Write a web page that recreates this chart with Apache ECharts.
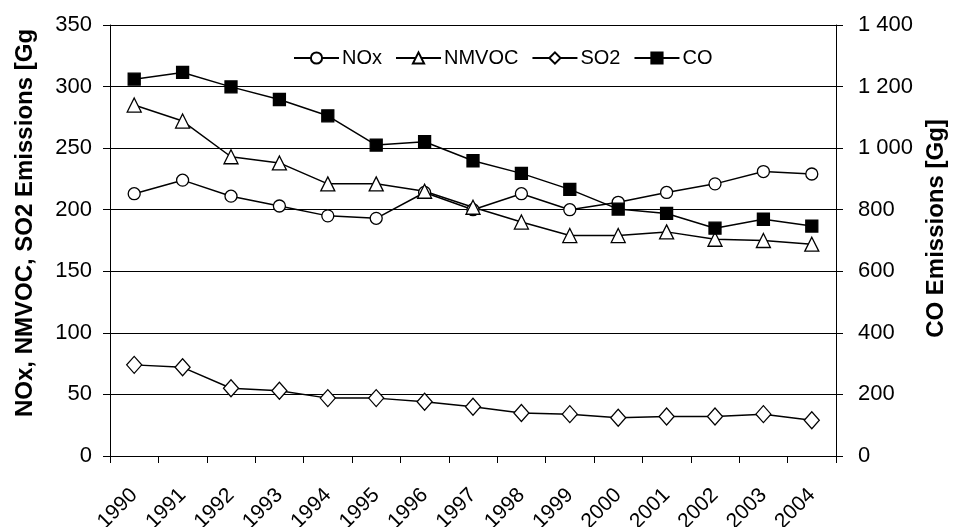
<!DOCTYPE html>
<html>
<head>
<meta charset="utf-8">
<script src="https://cdn.jsdelivr.net/npm/echarts@6/dist/echarts.min.js"></script>
<style>
html,body{margin:0;padding:0;background:#fff;}
#chart{width:953px;height:527px;}
</style>
</head>
<body>
<div id="chart"></div>
<script>
const years = ['1990','1991','1992','1993','1994','1995','1996','1997','1998','1999','2000','2001','2002','2003','2004'];
const noxValues = [213, 224, 211, 203, 195, 193, 214, 200, 213, 200, 206, 214, 221, 231, 229];
const nmvocValues = [285, 272, 243, 238, 221, 221, 215, 202, 190, 179, 179, 182, 176, 175, 172];
const so2Values = [74, 72, 55, 53, 47, 47, 44, 40, 35, 34, 31, 32, 32, 34, 29];
const coValues = [1224, 1246, 1199, 1158, 1105, 1010, 1021, 959, 918, 866, 802, 788, 740, 769, 747];
const leftTicks = {min: 0, max: 350, interval: 50};
const rightTicks = {min: 0, max: 1400, interval: 200};

const FONT = 'Liberation Sans, Arial, sans-serif';
const chart = echarts.init(document.getElementById('chart'), null, {renderer: 'canvas'});

function fmtSpace(v){ return String(v).replace(/\B(?=(\d{3})+(?!\d))/g, ' '); }

function lineSeries(name, data, symbol, size, fill, yIdx){
  return {
    name: name, type: 'line', data: data, yAxisIndex: yIdx,
    symbol: symbol, symbolSize: size, showAllSymbol: true,
    lineStyle: {color: '#000', width: 1.5},
    itemStyle: {color: fill, borderColor: '#000', borderWidth: 1.3},
    emphasis: {disabled: true},
    animation: false
  };
}

chart.setOption({
  animation: false,
  backgroundColor: '#fff',
  textStyle: {fontFamily: FONT},
  grid: {left: 110, right: 117, top: 25, bottom: 71, containLabel: false, outerBoundsMode: 'none'},
  legend: {
    top: 43, left: 288,
    itemWidth: 45, itemHeight: 14, itemGap: 13,
    textStyle: {fontFamily: FONT, fontSize: 20, color: '#000', padding: [0,0,0,-2]},
    data: ['NOx','NMVOC','SO2','CO']
  },
  xAxis: {
    type: 'category', data: years, boundaryGap: true,
    axisLine: {lineStyle: {color: '#000', width: 1}},
    axisTick: {show: true, alignWithLabel: false, length: 7, lineStyle: {color: '#000'}},
    axisLabel: {rotate: 45, fontSize: 21, color: '#000', fontFamily: FONT, margin: 36, interval: 0},
    splitLine: {show: false}
  },
  yAxis: [
    {
      type: 'value', position: 'left',
      min: leftTicks.min, max: leftTicks.max, interval: leftTicks.interval,
      name: 'NOx, NMVOC, SO2 Emissions [Gg', nameLocation: 'middle', nameGap: 73,
      nameTextStyle: {fontFamily: FONT, fontSize: 24, fontWeight: 'bold', color: '#000', padding: [0,0,0,35]},
      axisLine: {show: true, lineStyle: {color: '#000', width: 1}},
      axisTick: {show: true, length: 7, lineStyle: {color: '#000'}},
      axisLabel: {fontSize: 22, color: '#000', fontFamily: FONT, margin: 18},
      splitLine: {show: true, lineStyle: {color: '#000', width: 1}}
    },
    {
      type: 'value', position: 'right',
      min: rightTicks.min, max: rightTicks.max, interval: rightTicks.interval,
      name: 'CO Emissions [Gg]', nameLocation: 'middle', nameGap: 88,
      nameTextStyle: {fontFamily: FONT, fontSize: 24, fontWeight: 'bold', color: '#000', padding: [0,0,0,24]},
      axisLine: {show: true, lineStyle: {color: '#000', width: 1}},
      axisTick: {show: true, length: 7, lineStyle: {color: '#000'}},
      axisLabel: {fontSize: 22, color: '#000', fontFamily: FONT, margin: 22, formatter: fmtSpace},
      splitLine: {show: false}
    }
  ],
  series: [
    lineSeries('NOx', noxValues, 'circle', 12, '#fff', 0),
    lineSeries('NMVOC', nmvocValues, 'triangle', 14, '#fff', 0),
    lineSeries('SO2', so2Values, 'diamond', [15,17], '#fff', 0),
    lineSeries('CO', coValues, 'rect', 12, '#000', 1)
  ]
});
</script>
</body>
</html>
